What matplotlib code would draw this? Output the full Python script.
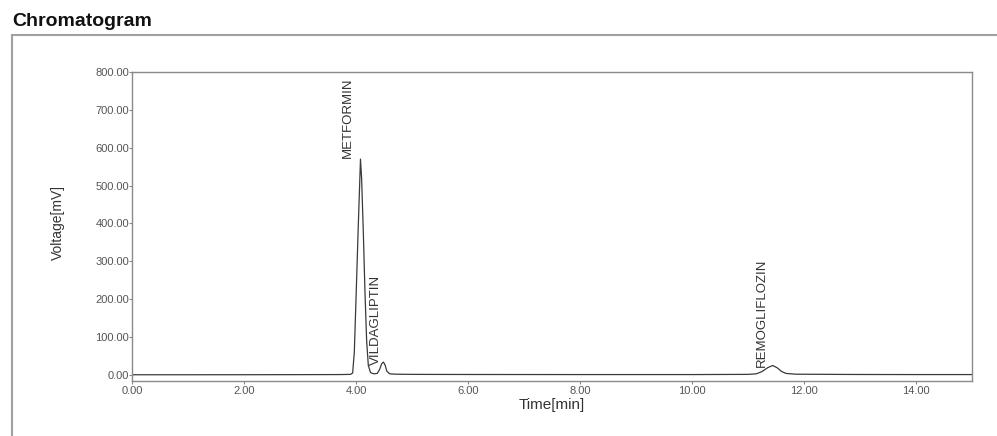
import matplotlib
matplotlib.use("Agg")
import matplotlib.pyplot as plt
from matplotlib.lines import Line2D

# ---- data ----
time_min = [0.00, 1.00, 2.00, 3.00, 3.70, 3.90, 3.94, 3.97, 4.00, 4.04, 4.08,
            4.10, 4.13, 4.16, 4.19, 4.22, 4.26, 4.32, 4.38, 4.42, 4.46, 4.49,
            4.52, 4.55, 4.60, 4.70, 5.00, 6.00, 8.00, 10.00, 11.00, 11.15,
            11.25, 11.35, 11.44, 11.52, 11.60, 11.68, 11.85, 12.50, 13.00,
            14.00, 15.00]
voltage_mv = [0.5, 0.5, 0.6, 0.8, 1.0, 1.5, 5.0, 60.0, 200.0, 390.0, 570.0,
              520.0, 380.0, 220.0, 90.0, 25.0, 6.0, 3.0, 4.0, 14.0, 30.0, 34.0,
              26.0, 10.0, 3.0, 2.0, 1.5, 1.2, 1.0, 1.0, 1.5, 3.0,
              9.0, 19.0, 25.0, 19.0, 9.0, 4.0, 2.0, 1.5, 1.2,
              1.0, 1.0]

peak_names = ["METFORMIN", "VILDAGLIPTIN", "REMOGLIFLOZIN"]
label_time = [3.86, 4.36, 11.25]
label_volt = [572.0, 26.0, 21.0]

x_ticks = [0, 2, 4, 6, 8, 10, 12, 14]
y_ticks = [0, 100, 200, 300, 400, 500, 600, 700, 800]

# ---- figure ----
plt.rcParams['font.family'] = ['Liberation Sans', 'DejaVu Sans']
W, H = 997, 436
fig = plt.figure(figsize=(W / 100, H / 100), dpi=100)
ax = fig.add_axes([132 / W, 1 - 381 / H, (972 - 132) / W, (381 - 72) / H])

ax.plot(time_min, voltage_mv, color='#3a3a3a', lw=0.9)

for name, tx, ty in zip(peak_names, label_time, label_volt):
    ax.text(tx, ty, name, rotation=90, ha='center', va='bottom',
            fontsize=9.5, color='#333333')

ax.set_xlim(0, 15)
ax.set_ylim(-16, 800)
ax.set_xticks(x_ticks)
ax.set_xticklabels([f"{v:.2f}" for v in x_ticks])
ax.set_yticks(y_ticks)
ax.set_yticklabels([f"{v:.2f}" for v in y_ticks])
ax.tick_params(axis='both', labelsize=8, labelcolor='#555555',
               color='#888888', length=2, width=0.8)
ax.tick_params(axis='y', pad=0)
ax.tick_params(axis='x', pad=1.5)
for s in ax.spines.values():
    s.set_color('#8a8a8a')
    s.set_linewidth(1.0)

fig.text(58 / W, 1 - 222 / H, "Voltage[mV]", rotation=90, ha='center',
         va='center', fontsize=10, color='#333333')
fig.text(552 / W, 1 - 405 / H, "Time[min]", ha='center', va='center',
         fontsize=11, color='#333333')

fig.text(12 / W, 1 - 21 / H, "Chromatogram", ha='left', va='center',
         fontsize=14, fontweight='bold', color='#111111')

# outer panel frame
fig.add_artist(Line2D([12 / W, 1.0], [1 - 35 / H, 1 - 35 / H],
                      transform=fig.transFigure, color='#a0a0a0', lw=1.5))
fig.add_artist(Line2D([12 / W, 12 / W], [1 - 35 / H, 0.0],
                      transform=fig.transFigure, color='#a0a0a0', lw=1.5))

fig.savefig("out.png", dpi=100)
